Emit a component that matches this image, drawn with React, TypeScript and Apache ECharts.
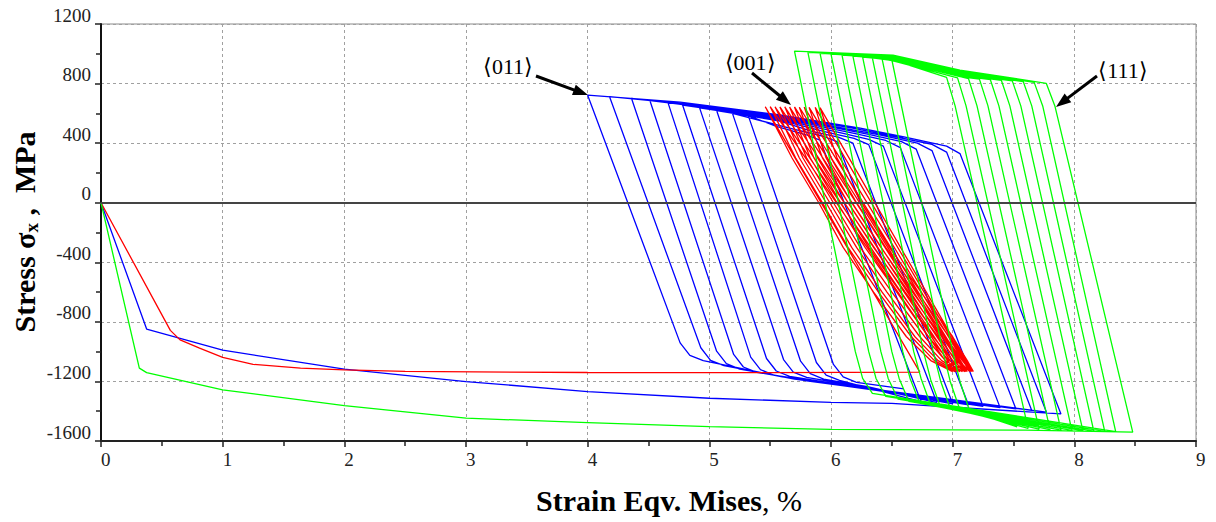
import React, { useEffect, useRef } from "react";
import * as echarts from "echarts";

// ⟨011⟩ orientation (blue): [strain %, stress MPa]
const blue011: number[][] = [
  [0, 0], [0.375, -848], [1, -990], [2, -1118], [3, -1201], [4, -1268], [5, -1313], [6, -1340], [6.5, -1348], [7.89, -1418],
  [7.06, 330], [6.95, 380], [6.59, 443], [6.24, 501], [5.58, 590], [4.76, 675], [4.0, 722], [4.76, -941], [4.84, -1025], [4.95, -1061], [5.6, -1170], [7.77, -1406],
  [6.95, 340], [6.83, 392], [6.5, 448], [6.2, 498], [5.58, 585], [4.9, 655], [4.18, 712], [4.93, -974], [5.01, -1058], [5.12, -1094], [5.7, -1185], [7.65, -1395],
  [6.83, 350], [6.71, 400], [6.4, 455], [5.58, 580], [4.36, 701], [5.06, -997], [5.14, -1081], [5.25, -1117], [5.8, -1196], [7.52, -1385],
  [6.70, 360], [6.58, 410], [6.3, 460], [5.58, 574], [4.51, 690], [5.20, -1019], [5.28, -1103], [5.39, -1139], [5.9, -1206], [7.39, -1376],
  [6.57, 370], [6.45, 418], [6.2, 464], [5.58, 568], [4.66, 672], [5.34, -1037], [5.42, -1121], [5.53, -1157], [6.0, -1215], [7.25, -1367],
  [6.43, 380], [6.31, 425], [6.1, 466], [5.58, 562], [4.78, 656], [5.47, -1046], [5.55, -1130], [5.66, -1166], [6.1, -1223], [7.13, -1358],
  [6.31, 390], [6.19, 432], [5.98, 470], [5.58, 555], [4.92, 637], [5.61, -1053], [5.69, -1137], [5.80, -1173], [6.2, -1229], [7.00, -1350],
  [6.18, 400], [6.06, 440], [5.85, 478], [5.58, 548], [5.06, 619], [5.75, -1064], [5.83, -1148], [5.94, -1184], [6.3, -1235], [6.87, -1342],
  [6.05, 410], [5.93, 448], [5.7, 492], [5.19, 600], [5.88, -1073], [5.96, -1157], [6.07, -1193], [6.74, -1335],
  [5.91, 420], [5.79, 458], [5.55, 512], [5.32, 585], [6.02, -1086], [6.10, -1170], [6.21, -1206], [6.6, -1250],
];

// ⟨001⟩ orientation (red)
const red001: number[][] = [
  [0, 0], [0.57, -857], [0.65, -921], [0.81, -977], [1.0, -1038], [1.25, -1085], [1.64, -1111], [2.0, -1123], [2.5, -1133], [4.0, -1140], [5.5, -1141], [6.73, -1138],
  [5.46, 644], [5.68, 300], [5.90, 0], [6.10, -300], [6.35, -600], [6.62, -900], [6.82, -1060], [7.00, -1134],
  [5.50, 645], [5.71, 300], [5.93, 0], [6.14, -300], [6.39, -600], [6.66, -900], [6.85, -1060], [7.02, -1134],
  [5.54, 644], [5.74, 300], [5.96, 0], [6.17, -300], [6.42, -600], [6.69, -900], [6.88, -1060], [7.04, -1134],
  [5.58, 643], [5.77, 300], [5.99, 0], [6.21, -300], [6.46, -600], [6.73, -900], [6.91, -1060], [7.06, -1134],
  [5.62, 644], [5.80, 300], [6.02, 0], [6.24, -300], [6.50, -600], [6.77, -900], [6.94, -1060], [7.08, -1134],
  [5.66, 642], [5.83, 300], [6.05, 0], [6.28, -300], [6.54, -600], [6.80, -900], [6.97, -1060], [7.10, -1134],
  [5.70, 643], [5.86, 300], [6.08, 0], [6.31, -300], [6.57, -600], [6.84, -900], [7.00, -1060], [7.11, -1134],
  [5.74, 641], [5.89, 300], [6.11, 0], [6.35, -300], [6.61, -600], [6.88, -900], [7.03, -1060], [7.12, -1134],
  [5.78, 642], [5.93, 300], [6.14, 0], [6.38, -300], [6.64, -600], [6.91, -900], [7.05, -1060], [7.14, -1134],
  [5.82, 640], [5.96, 300], [6.17, 0], [6.41, -300], [6.67, -600], [6.94, -900], [7.08, -1060], [7.15, -1134],
  [5.87, 640], [6.00, 300], [6.21, 0], [6.45, -300], [6.71, -600], [6.97, -900], [7.10, -1060], [7.16, -1134],
  [5.91, 638], [6.05, 300], [6.25, 0], [6.48, -300], [6.74, -600], [7.00, -900], [7.12, -1060], [7.17, -1134],
];

// ⟨111⟩ orientation (green)
const green111: number[][] = [
  [0, 0], [0.315, -1111], [0.375, -1141], [1, -1257], [2, -1362], [3, -1447], [4, -1476], [5, -1503], [6, -1522], [7.6, -1527], [8.48, -1541],
  [7.84, 650], [7.77, 801], [7.06, 891], [6.51, 991], [5.70, 1018], [6.20, -1000], [6.26, -1180], [6.34, -1280], [8.34, -1537],
  [7.74, 650], [7.67, 808], [7.06, 882], [6.51, 985], [5.81, 1010], [6.31, -1000], [6.37, -1180], [6.45, -1300], [8.25, -1535],
  [7.65, 650], [7.58, 814], [7.06, 873], [6.51, 979], [5.91, 1003], [6.41, -1000], [6.47, -1180], [6.55, -1318], [8.16, -1533],
  [7.56, 650], [7.49, 818], [7.06, 866], [6.51, 974], [6.00, 998], [6.50, -1000], [6.56, -1180], [6.64, -1334], [8.07, -1531],
  [7.47, 650], [7.40, 822], [7.06, 859], [6.51, 969], [6.09, 992], [6.59, -1000], [6.65, -1180], [6.73, -1348], [7.98, -1529],
  [7.38, 650], [7.31, 826], [7.06, 853], [6.51, 964], [6.18, 985], [6.68, -1000], [6.74, -1180], [6.82, -1360], [7.89, -1527],
  [7.29, 650], [7.22, 830], [7.06, 847], [6.51, 959], [6.26, 978], [6.76, -1000], [6.82, -1190], [6.90, -1372], [7.80, -1524],
  [7.20, 650], [7.13, 834], [6.51, 955], [6.34, 972], [6.84, -1000], [6.90, -1195], [6.98, -1382], [7.71, -1520],
  [7.11, 650], [7.04, 838], [6.51, 952], [6.42, 966], [6.92, -1000], [6.98, -1200], [7.06, -1392], [7.62, -1515],
  [7.02, 650], [6.95, 842], [6.50, 960], [7.00, -1000], [7.06, -1200], [7.14, -1400], [7.53, -1505],
];

const label011 = "⟨011⟩";
const label001 = "⟨001⟩";
const label111 = "⟨111⟩";

const SERIF = "Liberation Serif";

function arrow(x1: number, y1: number, x2: number, y2: number) {
  const dx = x2 - x1;
  const dy = y2 - y1;
  const len = Math.sqrt(dx * dx + dy * dy);
  const ux = dx / len;
  const uy = dy / len;
  const hl = 15;
  const hw = 5.5;
  const bx = x2 - ux * hl;
  const by = y2 - uy * hl;
  const px = -uy;
  const py = ux;
  return [
    {
      type: "line",
      shape: { x1, y1, x2: bx + ux * 2, y2: by + uy * 2 },
      style: { stroke: "#000", lineWidth: 3 },
      silent: true,
      z: 100,
    },
    {
      type: "polygon",
      shape: {
        points: [
          [x2, y2],
          [bx + px * hw, by + py * hw],
          [bx - px * hw, by - py * hw],
        ],
      },
      style: { fill: "#000" },
      silent: true,
      z: 100,
    },
  ];
}

export default function App() {
  const ref = useRef<HTMLDivElement>(null);
  useEffect(() => {
    if (!ref.current) return;
    const chart = echarts.init(ref.current, null, { renderer: "svg" });
    const lineSeries = (data: number[][], color: string, z: number) => ({
      type: "line",
      data,
      showSymbol: false,
      symbol: "none",
      silent: true,
      z,
      lineStyle: { color, width: 1.3 },
      itemStyle: { color },
      emphasis: { disabled: true },
    });
    chart.setOption({
      animation: false,
      backgroundColor: "#ffffff",
      grid: {
        left: 101,
        top: 24,
        width: 1095,
        height: 417,
        show: true,
        borderColor: "#8a8a8a",
        borderWidth: 1,
        backgroundColor: "transparent",
      },
      xAxis: {
        type: "value",
        min: 0,
        max: 9,
        interval: 1,
        axisLine: { onZero: false, lineStyle: { color: "#222", width: 2 } },
        axisTick: { length: 6, lineStyle: { color: "#222", width: 1.5 } },
        minorTick: { show: true, splitNumber: 2, length: 5, lineStyle: { color: "#222", width: 1.5 } },
        splitLine: { show: true, lineStyle: { color: "#a0a0a0", type: [3, 3], width: 1 } },
        axisLabel: {
          fontFamily: SERIF,
          fontSize: 19,
          color: "#222",
          align: "left",
          margin: 9,
          formatter: (v: number) => String(v),
        },
      },
      yAxis: {
        type: "value",
        min: -1600,
        max: 1200,
        interval: 400,
        axisLine: { onZero: false, lineStyle: { color: "#111", width: 2 } },
        axisTick: { length: 6, lineStyle: { color: "#222", width: 1.5 } },
        minorTick: { show: true, splitNumber: 2, length: 5, lineStyle: { color: "#222", width: 1.5 } },
        splitLine: { show: true, lineStyle: { color: "#a0a0a0", type: [3, 3], width: 1 } },
        axisLabel: {
          fontFamily: SERIF,
          fontSize: 19,
          color: "#222",
          margin: 10,
          verticalAlign: "bottom",
          lineHeight: 18,
          formatter: (v: number) => String(v),
        },
      },
      series: [
        {
          type: "line",
          data: [],
          silent: true,
          z: 1,
          markLine: {
            silent: true,
            symbol: "none",
            label: { show: false },
            lineStyle: { color: "#444", width: 2, type: "solid" },
            data: [{ yAxis: 0 }],
          },
        },
        lineSeries(blue011, "#0000ff", 2),
        lineSeries(red001, "#ff0000", 3),
        lineSeries(green111, "#00ff00", 4),
      ],
      graphic: [
        {
          type: "text",
          x: 508,
          y: 66,
          style: { text: label011, fontFamily: SERIF, fontSize: 22, fill: "#000", align: "center", verticalAlign: "middle" },
          z: 100,
        },
        {
          type: "text",
          x: 750,
          y: 62,
          style: { text: label001, fontFamily: SERIF, fontSize: 22, fill: "#000", align: "center", verticalAlign: "middle" },
          z: 100,
        },
        {
          type: "text",
          x: 1123,
          y: 70,
          style: { text: label111, fontFamily: SERIF, fontSize: 22, fill: "#000", align: "center", verticalAlign: "middle" },
          z: 100,
        },
        ...arrow(536, 76, 588, 95),
        ...arrow(752, 73, 791, 105),
        ...arrow(1097, 76, 1056, 107),
        {
          type: "text",
          x: 669,
          y: 500,
          style: {
            text: "{b|Strain Eqv. Mises}{n|, %}",
            align: "center",
            verticalAlign: "middle",
            rich: {
              b: { fontFamily: SERIF, fontSize: 30, fontWeight: "bold", fill: "#000" },
              n: { fontFamily: SERIF, fontSize: 30, fontWeight: "normal", fill: "#000" },
            },
          },
          z: 100,
        },
        {
          type: "text",
          x: 24,
          y: 232,
          rotation: Math.PI / 2,
          style: {
            text: "{b|Stress σ}{s|x}{b| ,  MPa}",
            align: "center",
            verticalAlign: "middle",
            rich: {
              b: { fontFamily: SERIF, fontSize: 30, fontWeight: "bold", fill: "#000", lineHeight: 34 },
              s: { fontFamily: SERIF, fontSize: 19, fontWeight: "bold", fill: "#000", lineHeight: 34, verticalAlign: "bottom", padding: [10, 0, 0, 0] },
            },
          },
          z: 100,
        },
      ],
    });
    return () => chart.dispose();
  }, []);
  return (
    <div
      ref={ref}
      style={{ position: "fixed", left: 0, top: 0, width: 1216, height: 522, background: "#fff" }}
    />
  );
}
